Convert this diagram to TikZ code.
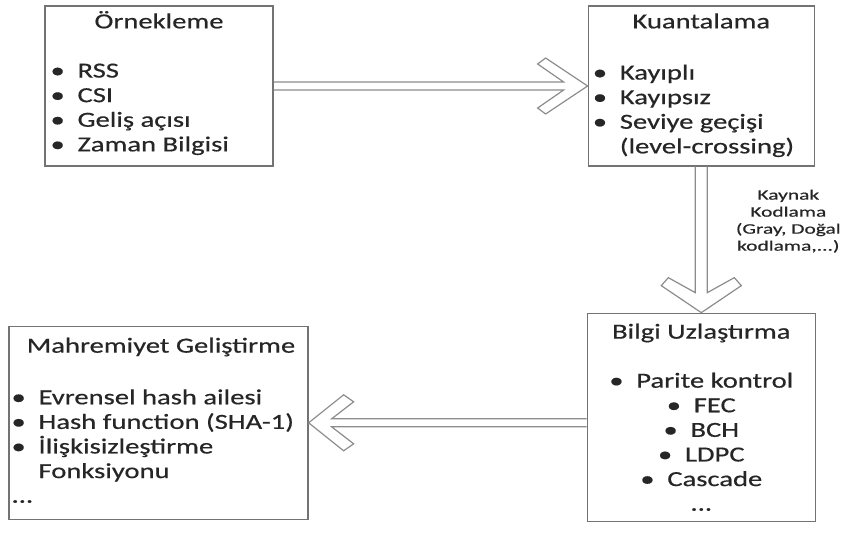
\documentclass[tikz,border=0pt]{standalone}
\usepackage{fontspec}
\setmainfont{Carlito}
\newfontfamily\boxfont{Carlito}[FakeStretch=1.33, FakeBold=0.5]
\newfontfamily\notefont{Carlito}[FakeStretch=1.48, FakeBold=0.5]
\usetikzlibrary{positioning}
\newcommand{\bul}{\makebox[27pt][l]{\textbullet}}
\newcommand{\ind}{\hspace*{27pt}}

\begin{document}
\begin{tikzpicture}[x=1pt, y=1pt, font=\boxfont\fontsize{21.5}{24.6}\selectfont, box/.style={rectangle, draw=black!55, line width=1.3pt, minimum width=228pt, minimum height=160pt}, title/.style={anchor=base, text=black!85, inner sep=0pt}, items/.style={anchor=base west, align=left, text=black!85, inner sep=0pt}, hollow/.style={draw=black!45, line width=1.2pt, line join=miter}]
\useasboundingbox (0,0) rectangle (848,-533);
\node[box] (orn) at (159,-86) {};
\node[box, minimum width=226pt, right=314pt of orn] (kuant) {};
\node[box, minimum height=208pt, below=146pt of kuant] (bilgi) {};
\node[box, minimum width=299pt, minimum height=193pt, left=278pt of bilgi, yshift=-5.5pt] (mahrem) {};
% titles
\node[title] (ornT) at ([yshift=-23pt]orn.north) {Örnekleme};
\node[title] (kuantT) at ([yshift=-23pt]kuant.north) {Kuantalama};
\node[title] (bilgiT) at ([yshift=-26pt]bilgi.north) {Bilgi Uzlaştırma};
\node[title] (mahremT) at ([xshift=2.5pt,yshift=-27pt]mahrem.north) {Mahremiyet Geliştirme};
% lists (anchored on the baseline of their last line)
\node[items] (ornL) at ([xshift=6pt,yshift=-146pt]orn.north west) {\bul RSS\\ \bul CSI\\ \bul Geliş açısı\\ \bul Zaman Bilgisi};
\node[items] (kuantL) at ([xshift=5pt,yshift=-148pt]kuant.north west) {\bul Kayıplı\\ \bul Kayıpsız\\ \bul Seviye geçişi\\ \ind(level-crossing)};
\node[items, anchor=base, align=center] (bilgiL) at ([yshift=-198pt]bilgi.north) {\bul Parite kontrol\\ \bul FEC\\ \bul BCH\\ \bul LDPC\\ \bul Cascade\\ ...};
\node[items] (mahremL) at ([xshift=3pt,yshift=-177pt]mahrem.north west) {\bul Evrensel hash ailesi\\ \bul Hash function (SHA-1)\\ \bul İlişkisizleştirme\\ \ind Fonksiyonu\\ ...};
% hollow arrows
\draw[hollow] ([yshift=4pt]orn.east) -- ([xshift=-24pt,yshift=4pt]kuant.west) -- ++(-26,18) -- ++(8,6) -- (kuant.west) -- ++(-42,-28) -- ++(-8,6) -- ++(26,18) -- ([yshift=-4pt]orn.east);
\draw[hollow] ([xshift=-6pt]kuant.south) -- ([xshift=-6pt,yshift=20pt]bilgi.north) -- ++(-27,15) -- ++(-7,-8) -- (bilgi.north) -- ++(40,27) -- ++(-7,8) -- ++(-27,-15) -- ([xshift=6pt]kuant.south);
\coordinate (bilgiIn) at (bilgi.west |- mahrem.east);
\draw[hollow] ([yshift=4pt]bilgiIn) -- ([xshift=23pt,yshift=4pt]mahrem.east) -- ++(22,17) -- ++(-10,7) -- (mahrem.east) -- ++(35,-28) -- ++(10,7) -- ++(-22,17) -- ([yshift=-4pt]bilgiIn);
\node[anchor=base, align=center, font=\notefont\fontsize{14.5}{17}\selectfont, text=black!85] (kaynak) at ([xshift=87pt,yshift=-84pt]kuant.south) {Kaynak\\Kodlama\\(Gray, Doğal\\kodlama,...)};
\end{tikzpicture}
\end{document}
